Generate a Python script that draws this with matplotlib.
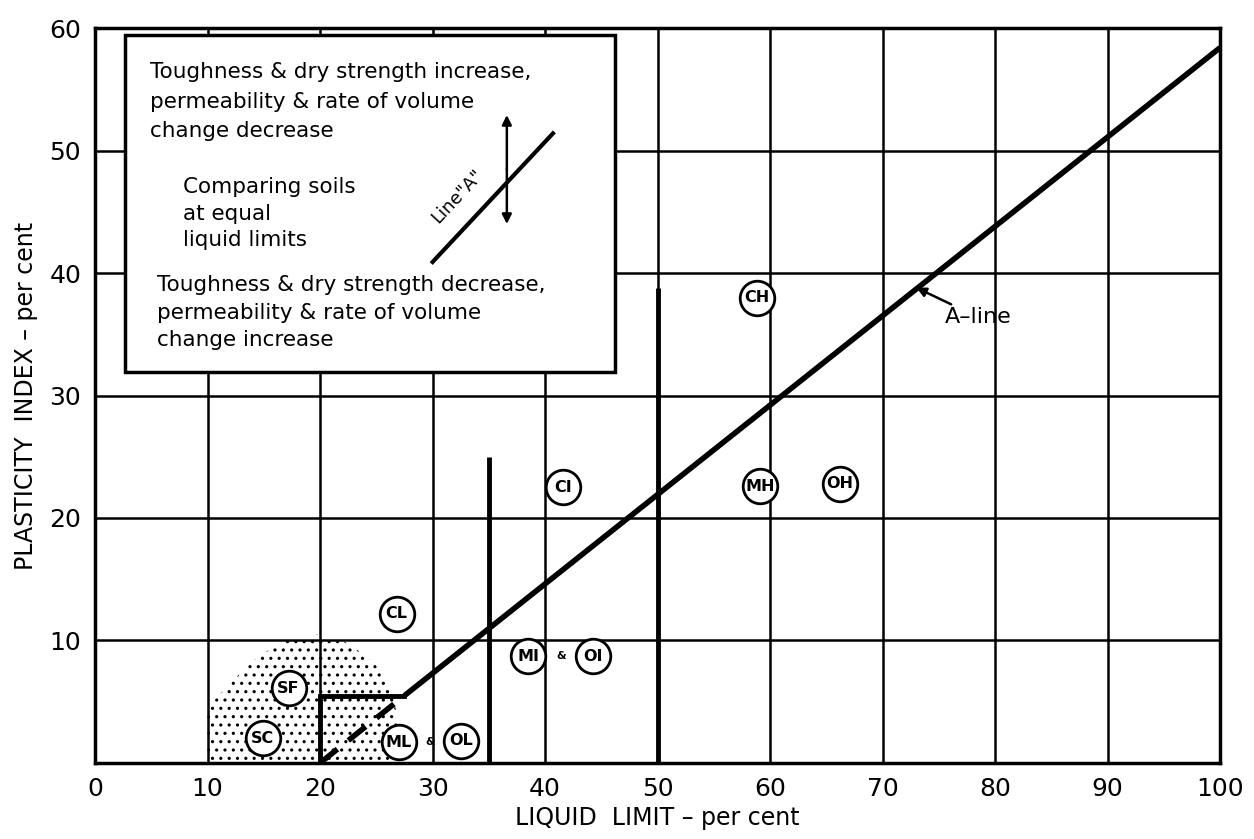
import matplotlib
matplotlib.use("Agg")
import matplotlib.pyplot as plt
from matplotlib.patches import Rectangle, Polygon

plt.rcParams['font.family'] = ['DejaVu Sans']
plt.rcParams['hatch.linewidth'] = 1.1

# ---- data ----
x_ticks = [0, 10, 20, 30, 40, 50, 60, 70, 80, 90, 100]
y_ticks = [0, 10, 20, 30, 40, 50, 60]

aline_x = [27.5, 100]
aline_y = [5.5, 58.4]
aline_dash_x = [20, 27.5]
aline_dash_y = [0, 5.5]
ml_step_x = [20, 27.5]
ml_step_y = [5.5, 5.5]

div_lines_x = [20, 35, 50]
div_lines_top = [5.5, 25, 38.8]

labels = ['CL', 'CI', 'CH', 'MH', 'OH', 'MI', 'OI', 'SF', 'SC', 'ML', 'OL']
label_x = [26.8, 41.6, 58.8, 59.1, 66.2, 38.5, 44.3, 17.2, 14.9, 27.0, 32.5]
label_y = [12.2, 22.5, 38.0, 22.6, 22.8, 8.7, 8.7, 6.1, 2.0, 1.7, 1.8]
amp_x = [41.4, 29.8]
amp_y = [8.7, 1.7]

stipple_x = [10, 10, 11, 12, 14, 16, 18, 20, 22, 24, 25.5, 26.5, 27, 27]
stipple_y = [0, 4.5, 5.5, 6.5, 8.3, 9.6, 10.3, 10.5, 10.0, 8.8, 7.5, 5.5, 3, 0]

box_text_top = ["Toughness & dry strength increase,",
                "permeability & rate of volume",
                "change decrease"]
box_text_mid = ["Comparing soils", "at equal", "liquid limits"]
box_text_bot = ["Toughness & dry strength decrease,",
                "permeability & rate of volume",
                "change increase"]

# ---- figure ----
fig = plt.figure(figsize=(12.54, 8.39), dpi=100)
ax = fig.add_axes([0.0758, 0.0906, 0.8972, 0.876])
ax.set_xlim(0, 100)
ax.set_ylim(0, 60)

for v in x_ticks[1:-1]:
    ax.axvline(v, color='black', lw=1.8, zorder=1)
for v in y_ticks[1:-1]:
    ax.axhline(v, color='black', lw=1.8, zorder=1)

# stipple region
ax.add_patch(Polygon(list(zip(stipple_x, stipple_y)), closed=True,
                     facecolor='none', edgecolor='black', lw=0,
                     hatch='..', zorder=2))

# dividing verticals
for xv, top in zip(div_lines_x, div_lines_top):
    ax.plot([xv, xv], [0, top], color='black', lw=3.5, zorder=3,
            solid_capstyle='butt')

ax.plot(ml_step_x, ml_step_y, color='black', lw=3.5, zorder=3)
ax.plot(aline_x, aline_y, color='black', lw=4, zorder=3,
        solid_capstyle='butt')
ax.plot(aline_dash_x, aline_dash_y, color='black', lw=4, zorder=3,
        dashes=(4, 2.5))

# circled labels
ax.scatter(label_x, label_y, s=620, facecolor='white', edgecolor='black',
           linewidth=2, zorder=7)
for t, xv, yv in zip(labels, label_x, label_y):
    ax.text(xv, yv, t, ha='center', va='center', fontsize=11.5,
            fontweight='bold', zorder=8)
for xv, yv in zip(amp_x, amp_y):
    ax.text(xv, yv, '&', ha='center', va='center', fontsize=8,
            fontweight='bold', zorder=7)

# A-line annotation
ax.annotate('A\u2013line', xy=(73.0, 38.8), xytext=(75.5, 36.4),
            fontsize=16, ha='left', va='center', zorder=7,
            arrowprops=dict(arrowstyle='-|>', color='black', lw=1.8,
                            mutation_scale=14, shrinkA=0, shrinkB=0))

# inset box
ax.add_patch(Rectangle((2.7, 31.9), 43.5, 27.5, facecolor='white',
                       edgecolor='black', lw=2.5, zorder=5))
for i, s in enumerate(box_text_top):
    ax.text(4.9, 56.4 - 2.4 * i, s, fontsize=15.5, va='center', ha='left', zorder=6)
for i, s in enumerate(box_text_mid):
    ax.text(7.8, 47.0 - 2.15 * i, s, fontsize=15.5, va='center', ha='left', zorder=6)
for i, s in enumerate(box_text_bot):
    ax.text(5.5, 39.0 - 2.25 * i, s, fontsize=15.5, va='center', ha='left', zorder=6)

# mini A-line diagram
ax.plot([30.0, 40.7], [40.9, 51.4], color='black', lw=3, zorder=6)
ax.annotate('', xy=(36.6, 52.9), xytext=(36.6, 48.5), zorder=6,
            arrowprops=dict(arrowstyle='-|>', color='black', lw=1.8,
                            mutation_scale=14, shrinkA=0, shrinkB=0))
ax.annotate('', xy=(36.6, 44.0), xytext=(36.6, 48.5), zorder=6,
            arrowprops=dict(arrowstyle='-|>', color='black', lw=1.8,
                            mutation_scale=14, shrinkA=0, shrinkB=0))
ax.text(32.2, 46.3, 'Line"A"', rotation=47, fontsize=13, ha='center',
        va='center', zorder=6, rotation_mode='anchor')

# axes styling
for sp in ax.spines.values():
    sp.set_linewidth(2.5)
ax.set_xticks(x_ticks)
ax.set_yticks(y_ticks[1:])
ax.set_xticklabels([str(v) for v in x_ticks])
ax.set_yticklabels([str(v) for v in y_ticks[1:]])
ax.tick_params(length=0, labelsize=18, pad=10)
ax.set_xlabel('LIQUID  LIMIT \u2013 per cent', fontsize=17, labelpad=4)
ax.set_ylabel('PLASTICITY  INDEX \u2013 per cent', fontsize=17, labelpad=8)

fig.savefig('out.png', dpi=100, facecolor='white')
